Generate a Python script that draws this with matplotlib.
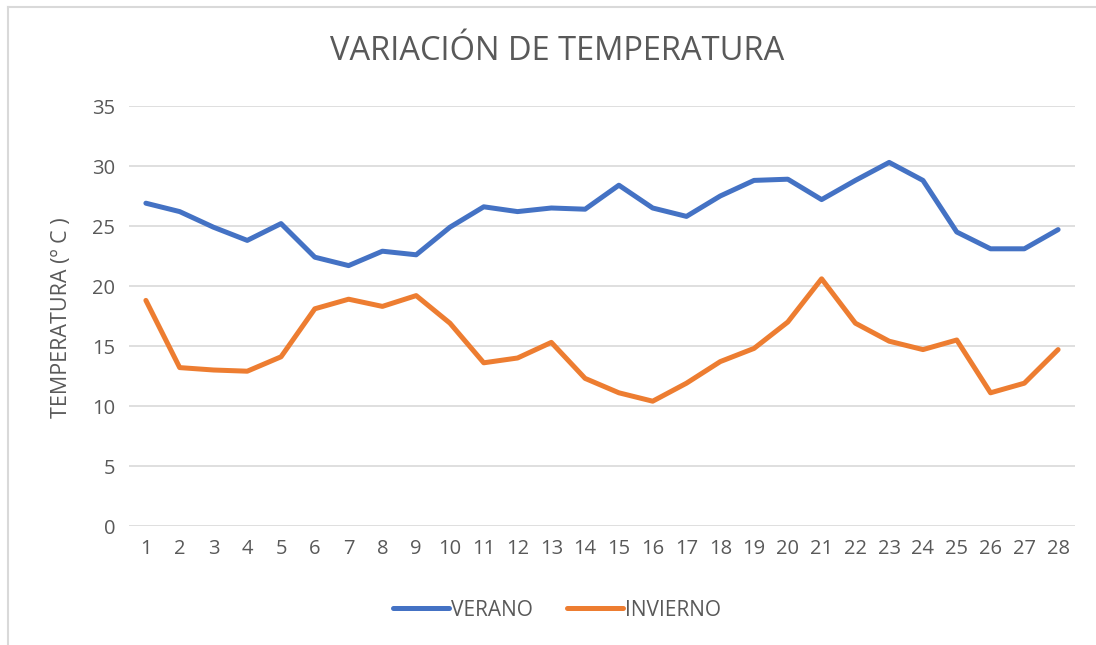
import matplotlib
matplotlib.use("Agg")
import matplotlib.pyplot as plt
from matplotlib.lines import Line2D

days = list(range(1, 29))
verano = [26.9, 26.2, 24.9, 23.8, 25.2, 22.4, 21.7, 22.9, 22.6, 24.9,
          26.6, 26.2, 26.5, 26.4, 28.4, 26.5, 25.8, 27.5, 28.8, 28.9,
          27.2, 28.8, 30.3, 28.8, 24.5, 23.1, 23.1, 24.7]
invierno = [18.8, 13.2, 13.0, 12.9, 14.1, 18.1, 18.9, 18.3, 19.2, 16.9,
            13.6, 14.0, 15.3, 12.3, 11.1, 10.4, 11.9, 13.7, 14.8, 17.0,
            20.6, 16.9, 15.4, 14.7, 15.5, 11.1, 11.9, 14.7]
title = "VARIACIÓN DE TEMPERATURA"
ylabel = "TEMPERATURA (º C )"
yticks = [0, 5, 10, 15, 20, 25, 30, 35]

plt.rcParams['font.family'] = ['Open Sans', 'DejaVu Sans']
txt = '#595959'

W, H = 1096, 645
fig = plt.figure(figsize=(W / 100, H / 100), dpi=100)
ax = fig.add_axes([129 / W, (H - 526) / H, (1075 - 129) / W, (526 - 106) / H])

ax.plot(days, verano, color='#4472C4', lw=3.6, solid_joinstyle='round', solid_capstyle='round', label='VERANO')
ax.plot(days, invierno, color='#ED7D31', lw=3.6, solid_joinstyle='round', solid_capstyle='round', label='INVIERNO')

ax.set_xlim(0.5, 28.5)
ax.set_ylim(0, 35)
ax.set_yticks(yticks)
ax.set_xticks(days)
ax.set_xticklabels([str(d) for d in days])
ax.grid(axis='y', color='#D9D9D9', lw=1.2)
ax.set_axisbelow(True)
for s in ax.spines.values():
    s.set_visible(False)
ax.tick_params(length=0, labelsize=14.5, labelcolor=txt)
ax.tick_params(axis='y', pad=10)
ax.tick_params(axis='x', pad=9)

fig.text(61 / W, 1 - 318 / H, ylabel, rotation=90, ha='center', va='center', fontsize=15.5, color=txt)
fig.text(557 / W, 1 - 51 / H, title, ha='center', va='center', fontsize=23.5, color=txt)

leg = fig.legend(loc='center', bbox_to_anchor=(557 / W, 1 - 610 / H), ncol=2, frameon=False,
                 fontsize=15, handlelength=2.7, handletextpad=0.1, columnspacing=1.6)
for t in leg.get_texts():
    t.set_color(txt)

fig.add_artist(Line2D([8 / W, 8 / W], [0, 1 - 7 / H], color='#D9D9D9', lw=1.5, transform=fig.transFigure))
fig.add_artist(Line2D([8 / W, 1], [1 - 7 / H, 1 - 7 / H], color='#D9D9D9', lw=1.5, transform=fig.transFigure))

fig.savefig('out.png', dpi=100)
